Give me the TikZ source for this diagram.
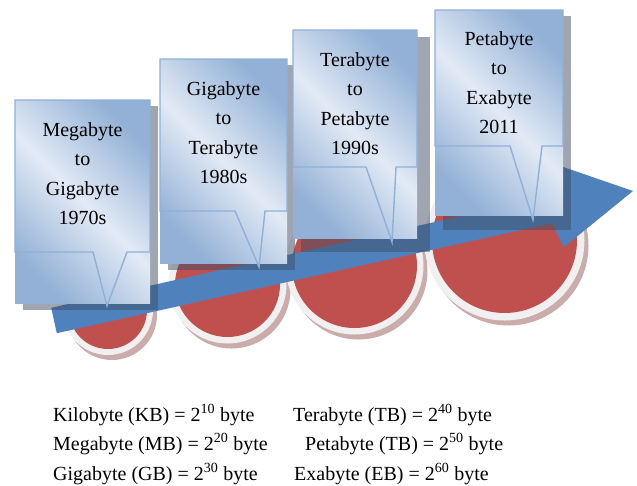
\documentclass[tikz,border=0pt]{standalone}
\usepackage{fontspec}
\setmainfont{Liberation Serif}
\definecolor{boxdark}{HTML}{93B1D6}
\definecolor{boxlight}{HTML}{E2EAF5}
\definecolor{boxedge}{HTML}{8FB0D8}
\definecolor{arrowblue}{HTML}{4F81BD}
\definecolor{discred}{HTML}{C0504D}
\definecolor{ringgray}{HTML}{F0F0F0}
\definecolor{ringshade}{HTML}{8A4644}
\definecolor{boxshade}{HTML}{3F4E63}
\tikzset{
  bubblefill/.style={top color=boxdark, bottom color=boxdark, middle color=boxlight, shading angle=-45},
  bubbleedge/.style={draw=boxedge, line width=1.4pt, line join=miter},
  bubbleshadow/.style={fill=boxshade, fill opacity=0.5},
  bubbletext/.style={anchor=base, inner sep=0pt, font=\fontsize{20}{29.6}\selectfont},
  scaletext/.style={anchor=base west, inner sep=0pt, font=\fontsize{20}{24}\selectfont},
}
% disc: centre x, centre y, red radius, ring radius
\newcommand\timelinedisc[4]{%
  \fill[ringshade, fill opacity=0.45] (#1+4,#2+5) circle[radius=#4];
  \fill[ringgray] (#1,#2) circle[radius=#4];
  \fill[discred] (#1,#2) circle[radius=#3];
}
% speech bubble: left, right, top, pointer base, pointer left, pointer right, tip x, tip y, fill bottom
\newcommand\bubblebox[9]{%
  \shade[bubblefill] (#1,#3) rectangle (#2,#9);
  \draw[bubbleedge] (#1,#3) -- (#2,#3) -- (#2,#4) -- (#6,#4) -- (#7,#8) -- (#5,#4) -- (#1,#4) -- cycle;
}
\begin{document}
\begin{tikzpicture}[x=1pt, y=-1pt]
\useasboundingbox (0,0) rectangle (637,485);

% discs behind the arrow
\timelinedisc{108}{310}{39}{45}
\timelinedisc{227.5}{284.5}{52.5}{59}
\timelinedisc{354.5}{265.5}{62.5}{69}
\timelinedisc{504.5}{240.5}{72.5}{80}

% rising arrow
\fill[arrowblue] (51.2,307.8) -- (546.2,197.1) -- (537.5,158.1) -- (633,191)
  -- (563.6,247.4) -- (551.9,223.2) -- (56.8,333.2) -- cycle;

% bubbles with their drop shadows
\fill[bubbleshadow] (23,106) rectangle (158,310);
\bubblebox{15}{150}{100}{252}{93}{127}{107}{306}{303}
\fill[bubbleshadow] (168,65) rectangle (295,270);
\bubblebox{160}{287}{59}{211}{235}{265}{259}{267}{263}
\fill[bubbleshadow] (301,37) rectangle (430,252);
\bubblebox{293}{417}{30}{167}{366}{396}{392}{242}{238}
\fill[bubbleshadow] (443,16) rectangle (571,230);
\bubblebox{435}{563}{10}{146}{510}{542}{533}{220}{215}

\node[bubbletext] (era1) at (82.5,136) {\begin{tabular}[t]{@{}c@{}}Megabyte\\to\\Gigabyte\\1970s\end{tabular}};
\node[bubbletext] (era2) at (223.5,95) {\begin{tabular}[t]{@{}c@{}}Gigabyte\\to\\Terabyte\\1980s\end{tabular}};
\node[bubbletext] (era3) at (355,66) {\begin{tabular}[t]{@{}c@{}}Terabyte\\to\\Petabyte\\1990s\end{tabular}};
\node[bubbletext] (era4) at (499,45) {\begin{tabular}[t]{@{}c@{}}Petabyte\\to\\Exabyte\\2011\end{tabular}};

% unit table
\node[scaletext] (kb) at (53,421) {Kilobyte (KB) = 2\textsuperscript{10} byte};
\node[scaletext] (mb) at (53,450) {Megabyte (MB) = 2\textsuperscript{20} byte};
\node[scaletext] (gb) at (53,480) {Gigabyte (GB) = 2\textsuperscript{30} byte};
\node[scaletext] (tb) at (293,421) {Terabyte (TB) = 2\textsuperscript{40} byte};
\node[scaletext] (pb) at (305,450) {Petabyte (TB) = 2\textsuperscript{50} byte};
\node[scaletext] (eb) at (294,480) {Exabyte (EB) = 2\textsuperscript{60} byte};
\end{tikzpicture}
\end{document}
